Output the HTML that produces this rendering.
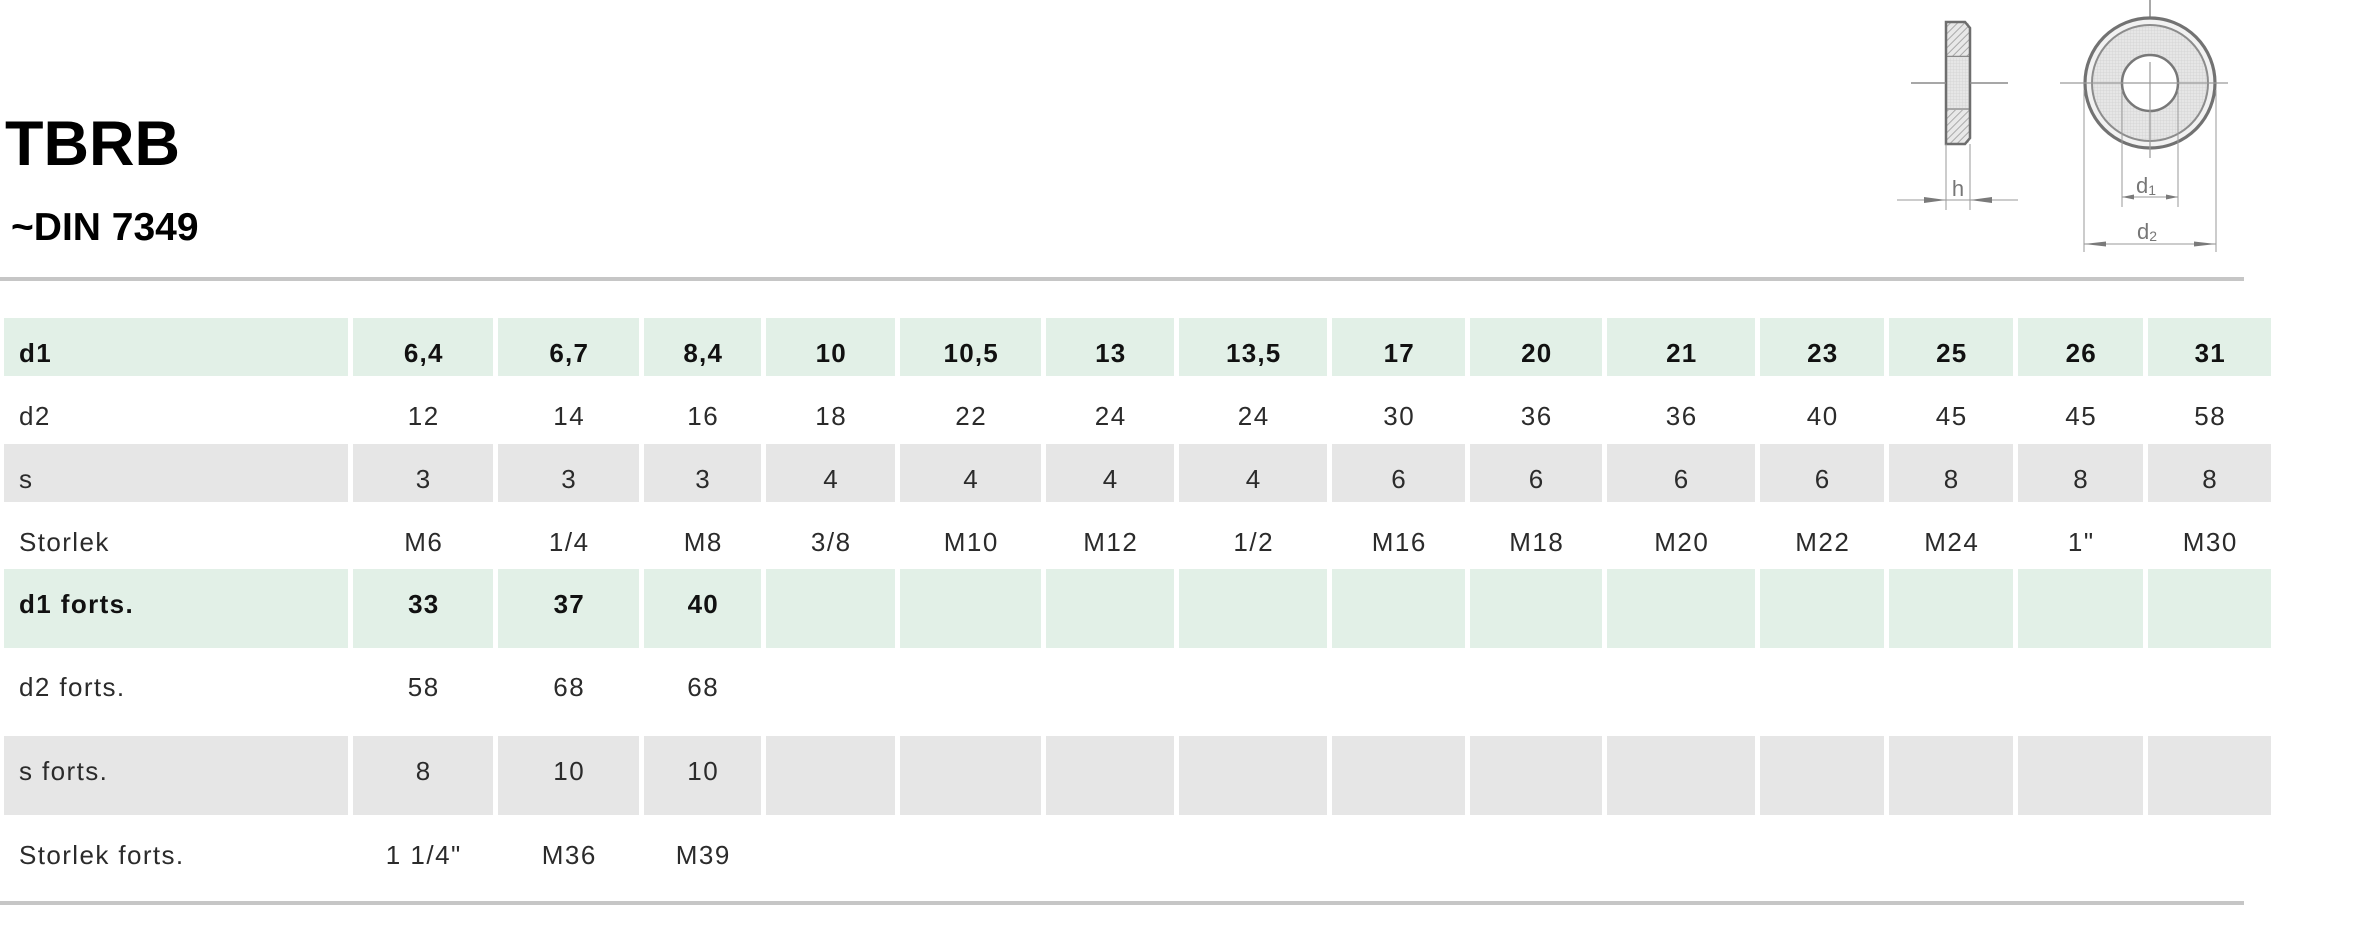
<!DOCTYPE html>
<html><head><meta charset="utf-8">
<style>
html,body{margin:0;padding:0;}
body{width:2370px;height:926px;background:#fff;position:relative;overflow:hidden;font-family:"Liberation Sans",sans-serif;}
.title{position:absolute;left:5px;top:113px;font-size:63px;line-height:63px;font-weight:bold;color:#000;white-space:nowrap;}
.sub{position:absolute;left:11px;top:209px;font-size:39px;line-height:38px;font-weight:bold;color:#000;white-space:nowrap;}
.rule{position:absolute;left:0;width:2244px;height:4px;background:#c6c6c6;}
.row{position:absolute;left:0;width:2370px;}
.row div{position:absolute;top:0;height:100%;font-size:26px;line-height:70px;text-align:center;color:#2b2b2b;white-space:nowrap;letter-spacing:1.5px;text-indent:1.5px;}
.row div.k0{text-align:left;padding-left:15px;box-sizing:border-box;text-indent:0;letter-spacing:1.4px;}
.g div{background:#e2f0e7;font-weight:bold;color:#111;letter-spacing:1.2px;}
.y div{background:#e6e6e6;}
.k0{left:4px;width:344px;}
.k1{left:353px;width:140px;}
.k2{left:498px;width:141px;}
.k3{left:644px;width:117px;}
.k4{left:766px;width:129px;}
.k5{left:900px;width:141px;}
.k6{left:1046px;width:128px;}
.k7{left:1179px;width:148px;}
.k8{left:1332px;width:133px;}
.k9{left:1470px;width:132px;}
.k10{left:1607px;width:148px;}
.k11{left:1760px;width:124px;}
.k12{left:1889px;width:124px;}
.k13{left:2018px;width:125px;}
.k14{left:2148px;width:123px;}
svg{position:absolute;left:0;top:0;}
</style></head>
<body>
<div class="title">TBRB</div>
<div class="sub">~DIN 7349</div>
<div class="rule" style="top:277px"></div>

<svg width="2370" height="270" viewBox="0 0 2370 270">
  <defs>
    <pattern id="hatch" width="5" height="5" patternUnits="userSpaceOnUse" patternTransform="rotate(45)">
      <rect width="5" height="5" fill="#e8e8e8"/>
      <line x1="0" y1="0" x2="0" y2="5" stroke="#9a9a9a" stroke-width="1.6"/>
    </pattern>
    <pattern id="grid" width="3" height="3" patternUnits="userSpaceOnUse">
      <rect width="3" height="3" fill="#e6e6e6"/>
      <line x1="0" y1="0" x2="3" y2="0" stroke="#d2d2d2" stroke-width="0.8"/>
      <line x1="0" y1="0" x2="0" y2="3" stroke="#d2d2d2" stroke-width="0.8"/>
    </pattern>
  </defs>
  <!-- side view -->
  <rect x="1946" y="23" width="23" height="33" fill="url(#hatch)"/>
  <rect x="1946" y="58" width="23" height="50" fill="url(#grid)"/>
  <rect x="1946" y="110" width="23" height="33" fill="url(#hatch)"/>
  <line x1="1946" y1="56.5" x2="1969" y2="56.5" stroke="#8a8a8a" stroke-width="1.5"/>
  <line x1="1946" y1="109" x2="1969" y2="109" stroke="#8a8a8a" stroke-width="1.5"/>
  <path d="M1946,22 H1965 L1970,28 V138 L1965,144 H1946 Z" fill="none" stroke="#6e6e6e" stroke-width="2.5"/>
  <line x1="1911" y1="83" x2="1946" y2="83" stroke="#8a8a8a" stroke-width="1.5"/>
  <line x1="1970" y1="83" x2="2008" y2="83" stroke="#8a8a8a" stroke-width="1.5"/>
  <line x1="1946" y1="144" x2="1946" y2="210" stroke="#9a9a9a" stroke-width="1"/>
  <line x1="1970" y1="144" x2="1970" y2="210" stroke="#9a9a9a" stroke-width="1"/>
  <line x1="1897" y1="200" x2="2018" y2="200" stroke="#9a9a9a" stroke-width="1"/>
  <path d="M1946,200 L1924,197 L1924,203 Z" fill="#7a7a7a"/>
  <path d="M1970,200 L1992,197 L1992,203 Z" fill="#7a7a7a"/>
  <text x="1958" y="196" font-family="Liberation Sans, sans-serif" font-size="22" fill="#777" text-anchor="middle">h</text>

  <!-- front view -->
  <line x1="2150" y1="0" x2="2150" y2="18" stroke="#8a8a8a" stroke-width="1.5"/>
  <circle cx="2150" cy="83" r="65" fill="#f2f2f2" stroke="#727272" stroke-width="3.2"/>
  <circle cx="2150" cy="83" r="58" fill="url(#grid)" stroke="#8c8c8c" stroke-width="2"/>
  <circle cx="2150" cy="83" r="28" fill="#fff" stroke="#787878" stroke-width="2.5"/>
  <line x1="2060" y1="83" x2="2228" y2="83" stroke="#9a9a9a" stroke-width="1.2"/>
  <line x1="2150" y1="62" x2="2150" y2="158" stroke="#9a9a9a" stroke-width="1.2"/>
  <!-- d1 -->
  <line x1="2122" y1="90" x2="2122" y2="207" stroke="#9a9a9a" stroke-width="1"/>
  <line x1="2178" y1="90" x2="2178" y2="207" stroke="#9a9a9a" stroke-width="1"/>
  <line x1="2122" y1="197" x2="2178" y2="197" stroke="#9a9a9a" stroke-width="1"/>
  <path d="M2122,197 L2134,194.5 L2134,199.5 Z" fill="#7a7a7a"/>
  <path d="M2178,197 L2166,194.5 L2166,199.5 Z" fill="#7a7a7a"/>
  <text x="2146" y="193" font-family="Liberation Sans, sans-serif" font-size="22" fill="#777" text-anchor="middle">d<tspan font-size="14" dy="2">1</tspan></text>
  <!-- d2 -->
  <line x1="2084" y1="90" x2="2084" y2="252" stroke="#9a9a9a" stroke-width="1"/>
  <line x1="2216" y1="90" x2="2216" y2="252" stroke="#9a9a9a" stroke-width="1"/>
  <line x1="2084" y1="244" x2="2216" y2="244" stroke="#9a9a9a" stroke-width="1"/>
  <path d="M2084,244 L2106,241.5 L2106,246.5 Z" fill="#7a7a7a"/>
  <path d="M2216,244 L2194,241.5 L2194,246.5 Z" fill="#7a7a7a"/>
  <text x="2147" y="239" font-family="Liberation Sans, sans-serif" font-size="22" fill="#777" text-anchor="middle">d<tspan font-size="14" dy="2">2</tspan></text>
</svg>

<div class="row g" style="top:318px;height:58px">
  <div class="k0">d1</div><div class="k1">6,4</div><div class="k2">6,7</div><div class="k3">8,4</div><div class="k4">10</div><div class="k5">10,5</div><div class="k6">13</div><div class="k7">13,5</div><div class="k8">17</div><div class="k9">20</div><div class="k10">21</div><div class="k11">23</div><div class="k12">25</div><div class="k13">26</div><div class="k14">31</div>
</div>
<div class="row" style="top:381px;height:58px">
  <div class="k0">d2</div><div class="k1">12</div><div class="k2">14</div><div class="k3">16</div><div class="k4">18</div><div class="k5">22</div><div class="k6">24</div><div class="k7">24</div><div class="k8">30</div><div class="k9">36</div><div class="k10">36</div><div class="k11">40</div><div class="k12">45</div><div class="k13">45</div><div class="k14">58</div>
</div>
<div class="row y" style="top:444px;height:58px">
  <div class="k0">s</div><div class="k1">3</div><div class="k2">3</div><div class="k3">3</div><div class="k4">4</div><div class="k5">4</div><div class="k6">4</div><div class="k7">4</div><div class="k8">6</div><div class="k9">6</div><div class="k10">6</div><div class="k11">6</div><div class="k12">8</div><div class="k13">8</div><div class="k14">8</div>
</div>
<div class="row" style="top:507px;height:57px">
  <div class="k0">Storlek</div><div class="k1">M6</div><div class="k2">1/4</div><div class="k3">M8</div><div class="k4">3/8</div><div class="k5">M10</div><div class="k6">M12</div><div class="k7">1/2</div><div class="k8">M16</div><div class="k9">M18</div><div class="k10">M20</div><div class="k11">M22</div><div class="k12">M24</div><div class="k13">1"</div><div class="k14">M30</div>
</div>
<div class="row g" style="top:569px;height:79px">
  <div class="k0">d1 forts.</div><div class="k1">33</div><div class="k2">37</div><div class="k3">40</div><div class="k4"></div><div class="k5"></div><div class="k6"></div><div class="k7"></div><div class="k8"></div><div class="k9"></div><div class="k10"></div><div class="k11"></div><div class="k12"></div><div class="k13"></div><div class="k14"></div>
</div>
<div class="row" style="top:652px;height:79px">
  <div class="k0">d2 forts.</div><div class="k1">58</div><div class="k2">68</div><div class="k3">68</div>
</div>
<div class="row y" style="top:736px;height:79px">
  <div class="k0">s forts.</div><div class="k1">8</div><div class="k2">10</div><div class="k3">10</div><div class="k4"></div><div class="k5"></div><div class="k6"></div><div class="k7"></div><div class="k8"></div><div class="k9"></div><div class="k10"></div><div class="k11"></div><div class="k12"></div><div class="k13"></div><div class="k14"></div>
</div>
<div class="row" style="top:820px;height:77px">
  <div class="k0">Storlek forts.</div><div class="k1">1 1/4"</div><div class="k2">M36</div><div class="k3">M39</div>
</div>

<div class="rule" style="top:901px"></div>
</body></html>
